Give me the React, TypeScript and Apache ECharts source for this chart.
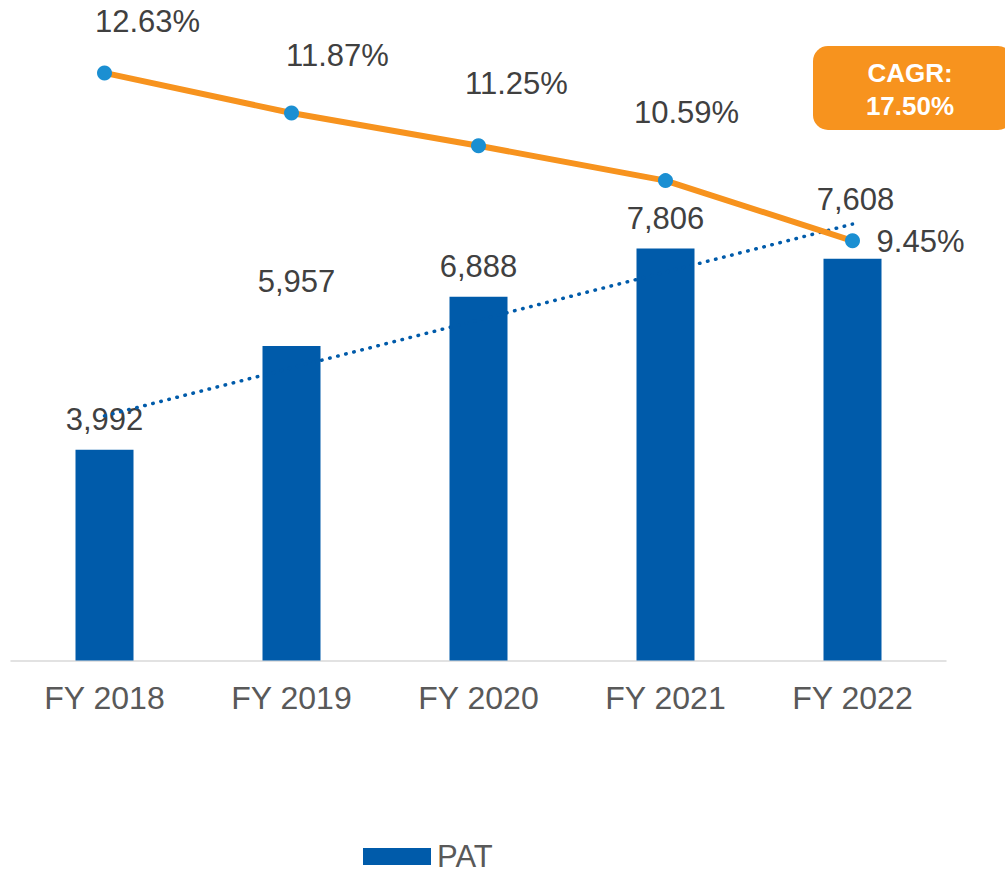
import React, { useEffect, useRef } from "react";
import * as echarts from "echarts";

const categories = ["FY 2018", "FY 2019", "FY 2020", "FY 2021", "FY 2022"];
const patValues = [3992, 5957, 6888, 7806, 7608];
const patMargin = [12.63, 11.87, 11.25, 10.59, 9.45];
const cagrText = ["CAGR:", "17.50%"];

// Label offsets (manual placement as in the source chart)
const barLabelOffsets = [[0, 0], [5, -35], [0, 0], [0, 0], [3, -29]];
const lineLabelOffsets = [[43, -51], [46, -58], [38, -62], [21, -68], [68, 1]];

// Linear trendline (least squares) of the PAT values
function linearTrend(vals: number[]): number[] {
  const n = vals.length;
  const xs = vals.map((_, i) => i + 1);
  const mx = xs.reduce((a, b) => a + b, 0) / n;
  const my = vals.reduce((a, b) => a + b, 0) / n;
  let num = 0;
  let den = 0;
  for (let i = 0; i < n; i++) {
    num += (xs[i] - mx) * (vals[i] - my);
    den += (xs[i] - mx) * (xs[i] - mx);
  }
  const slope = num / den;
  return xs.map((x) => my + slope * (x - mx));
}

const FONT = "'Liberation Sans', Arial, sans-serif";

export default function App() {
  const ref = useRef<HTMLDivElement>(null);

  useEffect(() => {
    if (!ref.current) return;
    const chart = echarts.init(ref.current, undefined, { renderer: "svg" });
    const trend = linearTrend(patValues);

    chart.setOption({
      animation: false,
      textStyle: { fontFamily: FONT },
      grid: { left: 11, right: 59, top: 27, bottom: 212.5, containLabel: false },
      legend: {
        data: ["PAT"],
        left: 358,
        top: 836,
        padding: 5,
        itemWidth: 68,
        itemHeight: 17,
        icon: "rect",
        textStyle: {
          fontFamily: FONT,
          fontSize: 31,
          lineHeight: 24,
          color: "#595959",
          padding: [0, 0, 0, 1],
        },
      },
      xAxis: {
        type: "category",
        data: categories,
        axisLine: { show: true, lineStyle: { color: "#D9D9D9", width: 1.5 } },
        axisTick: { show: false },
        axisLabel: {
          fontFamily: FONT,
          fontSize: 32,
          color: "#595959",
          margin: 21,
        },
      },
      yAxis: [
        { type: "value", min: 0, max: 12000, show: false, splitLine: { show: false } },
        { type: "value", min: 1.5, max: 13.5, show: false, splitLine: { show: false } },
      ],
      series: [
        {
          name: "PAT",
          type: "bar",
          barWidth: 58,
          yAxisIndex: 0,
          itemStyle: { color: "#005BAA" },
          data: patValues.map((v, i) => ({
            value: v,
            label: { offset: barLabelOffsets[i] },
          })),
          label: {
            show: true,
            position: "top",
            distance: 14.5,
            fontFamily: FONT,
            fontSize: 31,
            lineHeight: 31,
            color: "#404040",
            formatter: (p: any) => Number(p.value).toLocaleString("en-US"),
          },
          z: 1,
        },
        {
          name: "Trend",
          type: "line",
          yAxisIndex: 0,
          data: trend,
          symbol: "none",
          lineStyle: { color: "#005BAA", width: 3.5, type: [0.5, 7.8], cap: "round" },
          z: 2,
          silent: true,
        },
        {
          name: "PAT Margin",
          type: "line",
          yAxisIndex: 1,
          data: patMargin.map((v, i) => ({
            value: v,
            label: { offset: lineLabelOffsets[i] },
          })),
          symbol: "circle",
          symbolSize: 15,
          lineStyle: { color: "#F7931E", width: 6 },
          itemStyle: { color: "#1B8FD2" },
          label: {
            show: true,
            position: "inside",
            fontFamily: FONT,
            fontSize: 31,
            lineHeight: 31,
            color: "#404040",
            formatter: (p: any) => Number(p.value).toFixed(2) + "%",
          },
          z: 3,
        },
      ],
      graphic: [
        {
          type: "rect",
          shape: { x: 813, y: 46, width: 200, height: 84, r: 15 },
          style: { fill: "#F7931E" },
          z: 10,
        },
        {
          type: "text",
          x: 910,
          y: 73,
          style: {
            text: cagrText[0],
            fill: "#FFFFFF",
            font: `bold 26px ${FONT}`,
            align: "center",
            verticalAlign: "middle",
          },
          z: 11,
        },
        {
          type: "text",
          x: 910,
          y: 105.5,
          style: {
            text: cagrText[1],
            fill: "#FFFFFF",
            font: `bold 26px ${FONT}`,
            align: "center",
            verticalAlign: "middle",
          },
          z: 11,
        },
      ],
    });

    return () => chart.dispose();
  }, []);

  return <div ref={ref} style={{ width: 1005, height: 873, position: "absolute", left: 0, top: 0 }} />;
}
